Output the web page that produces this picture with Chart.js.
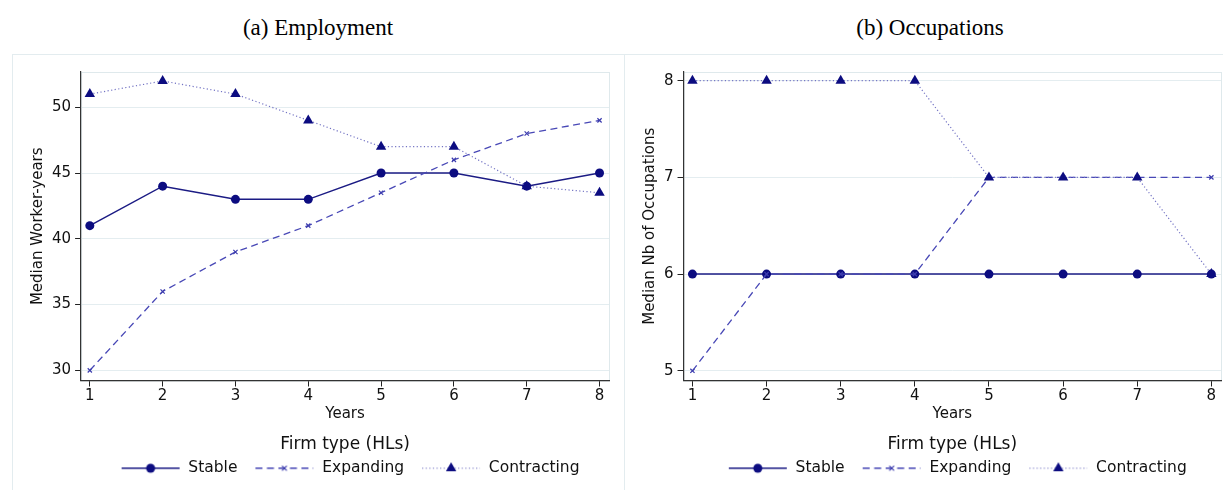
<!DOCTYPE html>
<html>
<head>
<meta charset="utf-8">
<script src="https://cdn.jsdelivr.net/npm/chart.js@4.4.1/dist/chart.umd.min.js"></script>
<style>
  html, body { margin: 0; padding: 0; background: #fff; width: 1223px; height: 490px; overflow: hidden; }
  .title { position: absolute; top: 16px; width: 612px; text-align: center; font-family: "Liberation Serif", serif; font-size: 23px; line-height: 23px; color: #000; }
  .panel { position: absolute; top: 54px; width: 611px; height: 440px; border-top: 1px solid #e3ecef; border-left: 1px solid #e3ecef; }
  .panel canvas { position: absolute; left: 0; top: 0; }
</style>
</head>
<body>
<div class="title" style="left:12px">(a) Employment</div>
<div class="title" style="left:624px">(b) Occupations</div>
<div class="panel" style="left:12px"><canvas id="empChart" width="611" height="435"></canvas></div>
<div class="panel" style="left:624px"><canvas id="occChart" width="611" height="435"></canvas></div>
<script>
// valores
const years = [1, 2, 3, 4, 5, 6, 7, 8];
const seriesNames = ['Stable', 'Expanding', 'Contracting'];

const empStable = [41, 44, 43, 43, 45, 45, 44, 45];
const empExpanding = [30, 36, 39, 41, 43.5, 46, 48, 49];
const empContracting = [51, 52, 51, 49, 47, 47, 44, 43.5];
const empTicks = [30, 35, 40, 45, 50];

const occStable = [6, 6, 6, 6, 6, 6, 6, 6];
const occExpanding = [5, 6, 6, 6, 7, 7, 7, 7];
const occContracting = [8, 8, 8, 8, 7, 7, 7, 6];
const occTicks = [5, 6, 7, 8];

Chart.defaults.font.family = 'DejaVu Sans';
Chart.defaults.color = '#111';

const NAVY = '#0c0c80';
const styles = [
    { line: '#1b1b84', width: 1.5, dash: [], marker: 'circle', radius: 4.5 },
    { line: '#4848b6', width: 1.3, dash: [7, 4.5], marker: 'crossRot', radius: 3 },
    { line: '#7474c4', width: 1.2, dash: [1.2, 2.4], marker: 'triangle', radius: 6 }
];

// icono de leyenda: linea con el marcador en medio
function legendIcon(s) {
    const c = document.createElement('canvas');
    c.width = 70; c.height = 16;
    const g = c.getContext('2d');
    g.strokeStyle = s.line; g.lineWidth = s.width;
    g.setLineDash(s.dash);
    g.beginPath(); g.moveTo(11, 8); g.lineTo(69, 8); g.stroke();
    g.setLineDash([]);
    const cx = 40, cy = 8;
    g.fillStyle = NAVY; g.strokeStyle = s.marker === 'crossRot' ? '#3c3cae' : NAVY;
    g.beginPath();
    if (s.marker === 'circle') {
        g.arc(cx, cy, s.radius, 0, Math.PI * 2); g.fill();
    } else if (s.marker === 'crossRot') {
        const r = s.radius * 0.8;
        g.lineWidth = 1.2;
        g.moveTo(cx - r, cy - r); g.lineTo(cx + r, cy + r);
        g.moveTo(cx + r, cy - r); g.lineTo(cx - r, cy + r); g.stroke();
    } else {
        const r = s.radius;
        g.moveTo(cx, cy - r);
        g.lineTo(cx + r * Math.sin(2 * Math.PI / 3), cy - r * Math.cos(2 * Math.PI / 3));
        g.lineTo(cx + r * Math.sin(4 * Math.PI / 3), cy - r * Math.cos(4 * Math.PI / 3));
        g.closePath(); g.fill();
    }
    return c;
}

const plotFrame = {
    id: 'plotFrame',
    beforeDraw(chart) {
        const a = chart.chartArea, ctx = chart.ctx;
        ctx.save();
        ctx.strokeStyle = '#dfe9ec';
        ctx.lineWidth = 1;
        ctx.strokeRect(a.left + 0.5, a.top + 0.5, a.right - a.left, a.bottom - a.top);
        ctx.restore();
    }
};

function makeDataset(i, values) {
    const s = styles[i];
    return {
        label: seriesNames[i],
        data: values,
        borderColor: s.line,
        borderWidth: s.width,
        borderDash: s.dash,
        pointStyle: s.marker,
        pointRadius: s.radius,
        pointBackgroundColor: NAVY,
        pointBorderColor: s.marker === 'crossRot' ? '#3c3cae' : NAVY,
        pointBorderWidth: s.marker === 'crossRot' ? 1.2 : 0,
        tension: 0,
        fill: false,
        order: 3 - i
    };
}

function createChart(canvasId, yTitle, series, yTicks, yMin, yMax) {
    const ctx = document.getElementById(canvasId).getContext('2d');
    return new Chart(ctx, {
        type: 'line',
        data: {
            labels: years,
            datasets: series.map((v, i) => makeDataset(i, v))
        },
        options: {
            responsive: false,
            animation: false,
            devicePixelRatio: 1,
            layout: { padding: { top: 17, right: 15, bottom: 4, left: 5 } },
            plugins: {
                tooltip: { enabled: false },
                legend: {
                    position: 'bottom',
                    fullSize: false,
                    title: {
                        display: true,
                        text: 'Firm type (HLs)',
                        font: { size: 17, lineHeight: 1.0 },
                        color: '#111',
                        padding: { top: 13, bottom: 0 }
                    },
                    labels: {
                        usePointStyle: true,
                        pointStyleWidth: 70,
                        padding: 7,
                        font: { size: 15.5 },
                        color: '#111',
                        generateLabels: chart => chart.data.datasets.map((ds, i) => ({
                            text: ds.label,
                            pointStyle: legendIcon(styles[i]),
                            fillStyle: NAVY,
                            strokeStyle: NAVY,
                            lineWidth: 0,
                            hidden: false,
                            datasetIndex: i,
                            fontColor: '#111'
                        }))
                    }
                }
            },
            scales: {
                x: {
                    type: 'linear',
                    min: 0.88,
                    max: 8.13,
                    afterBuildTicks: axis => { axis.ticks = years.map(v => ({ value: v })); },
                    grid: { drawOnChartArea: false, drawTicks: true, tickLength: 6, tickColor: '#222' },
                    border: { color: '#333', width: 1.2 },
                    ticks: { padding: 2, font: { size: 15, lineHeight: 1 }, color: '#111', callback: v => v },
                    title: { display: true, text: 'Years', font: { size: 15, lineHeight: 1.2 }, color: '#111', padding: { top: 0, bottom: 0 } }
                },
                y: {
                    min: yMin,
                    max: yMax,
                    afterBuildTicks: axis => { axis.ticks = yTicks.map(v => ({ value: v })); },
                    grid: { color: '#e4edf0', lineWidth: 1, tickLength: 6, tickColor: '#222' },
                    border: { color: '#333', width: 1.2 },
                    ticks: { padding: 4, font: { size: 15 }, color: '#111', callback: v => v },
                    title: { display: true, text: yTitle, font: { size: 15, lineHeight: 1.2 }, color: '#111', padding: { top: 11, bottom: 1 } }
                }
            }
        },
        plugins: [plotFrame]
    });
}

createChart('empChart', 'Median Worker-years', [empStable, empExpanding, empContracting], empTicks, 29.23, 52.68);
createChart('occChart', 'Median Nb of Occupations', [occStable, occExpanding, occContracting], occTicks, 4.9, 8.09);
</script>
</body>
</html>
